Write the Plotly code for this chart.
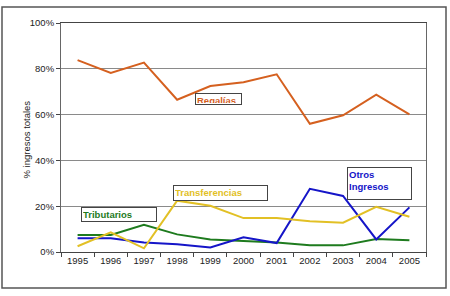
import plotly.graph_objects as go

years = ["1995", "1996", "1997", "1998", "1999", "2000", "2001", "2002", "2003", "2004", "2005"]
regalias = [0.838, 0.782, 0.827, 0.665, 0.725, 0.741, 0.776, 0.560, 0.597, 0.687, 0.601]
tributarios = [0.074, 0.074, 0.119, 0.077, 0.055, 0.049, 0.041, 0.029, 0.029, 0.057, 0.051]
otros = [0.060, 0.060, 0.041, 0.034, 0.020, 0.064, 0.039, 0.276, 0.245, 0.055, 0.195]
transferencias = [0.025, 0.086, 0.016, 0.224, 0.202, 0.148, 0.148, 0.134, 0.128, 0.197, 0.154]
yticks = [0, 0.2, 0.4, 0.6, 0.8, 1.0]

C_REG = "#D5601F"
C_TRI = "#1E7B1E"
C_OTR = "#1515C8"
C_TRA = "#E2C025"

fig = go.Figure()
for vals, col in [(regalias, C_REG), (tributarios, C_TRI), (otros, C_OTR), (transferencias, C_TRA)]:
    fig.add_trace(go.Scatter(x=years, y=vals, mode="lines",
                             line=dict(color=col, width=2), showlegend=False))

L, R, T, B = 61, 426, 23, 252
W, H = 450, 296
def px(x):
    return (x - L) / (R - L)
def py(y):
    return (B - y) / (B - T)

font = "Liberation Sans, Arial, sans-serif"

fig.update_layout(
    width=W, height=H,
    margin=dict(l=L, r=W - R, t=T, b=H - B),
    paper_bgcolor="white", plot_bgcolor="white",
    font=dict(family=font, size=10, color="#222"),
    xaxis=dict(type="category", range=[-0.5, len(years) - 0.5],
               tickson="boundaries", ticks="outside", ticklen=4,
               tickcolor="#444", showline=True, linecolor="#444", linewidth=1,
               mirror=True, showgrid=False, tickfont=dict(size=9.5)),
    yaxis=dict(range=[0, 1], tickvals=yticks, tickformat=".0%", ticks="outside",
               ticklen=4, tickcolor="#444", showline=True, linecolor="#666",
               mirror=True, gridcolor="#8a8a8a", gridwidth=1, zeroline=False,
               tickfont=dict(size=9.5)),
    shapes=[
        dict(type="rect", xref="paper", yref="paper",
             x0=px(2), x1=px(446), y0=py(288), y1=py(7),
             line=dict(color="#555", width=1.5), layer="below"),
    ],
)

def box(text, col, x0, x1, y0, y1):
    fig.add_annotation(xref="paper", yref="paper", x=px(x0), y=py(y0),
                       xanchor="left", yanchor="top", showarrow=False,
                       text=text, align="left", valign="top",
                       width=x1 - x0 - 4, height=y1 - y0 - 4,
                       bordercolor="#444", borderwidth=1, borderpad=1,
                       bgcolor="white",
                       font=dict(color=col, size=9.5, family=font))

box("<b>Regalías</b>", C_REG, 195, 242, 93, 105)
box("<b>Transferencias</b>", C_TRA, 173, 268, 185, 201)
box("<b>Otros<br>Ingresos</b>", C_OTR, 347, 412, 167, 200)
box("<b>Tributarios</b>", C_TRI, 81, 157, 207, 222)

fig.add_annotation(xref="paper", yref="paper", x=px(18), y=py(140),
                   text="% ingresos totales", textangle=-90, showarrow=False,
                   font=dict(size=9.5, color="#222", family=font))

fig.write_html("out.html")
